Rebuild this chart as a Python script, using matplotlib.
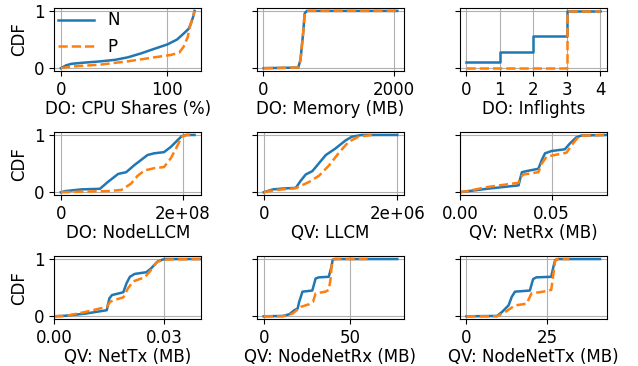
import matplotlib
matplotlib.use("Agg")
import matplotlib.pyplot as plt

plt.rcParams['font.size'] = 12

# --- datos (x, CDF) ---
cpu_x_n = [0, 5, 10, 20, 36, 51, 63, 75.5, 88, 100, 109, 115, 120, 122, 124, 125.4]
cpu_y_n = [0, 0.05, 0.076, 0.094, 0.117, 0.146, 0.19, 0.26, 0.34, 0.415, 0.50, 0.60, 0.69, 0.78, 0.89, 1.0]
cpu_x_p = [0, 11, 36, 63, 88, 103, 111, 115, 119, 121, 124, 125.4]
cpu_y_p = [0, 0.03, 0.06, 0.12, 0.19, 0.23, 0.27, 0.37, 0.54, 0.72, 0.89, 1.0]

mem_x_n = [15, 540, 575, 615, 640, 675, 2050]
mem_y_n = [0, 0.01, 0.14, 0.6, 0.96, 1.0, 1.0]
mem_x_p = [15, 540, 575, 615, 640, 675, 2050]
mem_y_p = [0, 0.01, 0.14, 0.6, 0.96, 1.0, 1.0]

inf_x = [0, 1, 2, 3, 4]
inf_y_n = [0.1, 0.28, 0.57, 1.0, 1.0]
inf_y_p = [0, 0, 0, 1.0, 1.0]

nllcm_x_n = [0, 0.075e8, 0.34e8, 0.64e8, 0.77e8, 0.94e8, 1.07e8, 1.2e8, 1.42e8, 1.53e8, 1.69e8, 1.8e8, 1.98e8, 2.06e8, 2.19e8]
nllcm_y_n = [0, 0.02, 0.05, 0.06, 0.18, 0.32, 0.35, 0.47, 0.65, 0.68, 0.70, 0.79, 0.98, 1.0, 1.0]
nllcm_x_p = [0, 0.34e8, 0.77e8, 0.99e8, 1.15e8, 1.26e8, 1.37e8, 1.53e8, 1.69e8, 1.8e8, 1.9e8, 1.98e8, 2.06e8, 2.17e8]
nllcm_y_p = [0, 0.01, 0.02, 0.04, 0.15, 0.29, 0.38, 0.42, 0.44, 0.59, 0.79, 0.97, 1.0, 1.0]

llcm_x_n = [0, 0.14e6, 0.29e6, 0.48e6, 0.56e6, 0.63e6, 0.73e6, 0.83e6, 0.93e6, 1.07e6, 1.22e6, 1.32e6, 1.47e6, 2.0e6]
llcm_y_n = [0, 0.05, 0.065, 0.076, 0.21, 0.31, 0.37, 0.51, 0.65, 0.76, 0.9, 0.97, 1.0, 1.0]
llcm_x_p = [0, 0.19e6, 0.48e6, 0.68e6, 0.83e6, 0.98e6, 1.12e6, 1.27e6, 1.42e6, 1.62e6, 1.65e6]
llcm_y_p = [0, 0.04, 0.07, 0.18, 0.29, 0.47, 0.68, 0.88, 0.97, 1.0, 1.0]

rx_x_n = [0, 0.0148, 0.032, 0.0329, 0.0338, 0.0365, 0.0428, 0.0446, 0.0464, 0.05, 0.0572, 0.0599, 0.0635, 0.0662, 0.08]
rx_y_n = [0, 0.06, 0.12, 0.24, 0.35, 0.37, 0.41, 0.56, 0.68, 0.72, 0.75, 0.85, 0.96, 0.99, 1.0]
rx_x_p = [0, 0.004, 0.0148, 0.032, 0.0329, 0.0347, 0.0428, 0.0446, 0.0473, 0.05, 0.0581, 0.0608, 0.0644, 0.0671, 0.08]
rx_y_p = [0, 0.02, 0.09, 0.165, 0.26, 0.31, 0.35, 0.5, 0.62, 0.64, 0.69, 0.82, 0.96, 0.99, 1.0]

tx_x_n = [0, 0.0031, 0.0085, 0.0143, 0.0150, 0.0157, 0.0188, 0.0197, 0.0206, 0.0219, 0.0251, 0.0264, 0.0282, 0.03, 0.04]
tx_y_n = [0, 0.01, 0.047, 0.106, 0.31, 0.37, 0.42, 0.58, 0.69, 0.74, 0.77, 0.84, 0.96, 1.0, 1.0]
tx_x_p = [0, 0.0031, 0.0085, 0.0143, 0.0152, 0.0161, 0.0188, 0.0201, 0.0215, 0.0246, 0.026, 0.0278, 0.0296, 0.04]
tx_y_p = [0, 0.006, 0.076, 0.165, 0.25, 0.28, 0.33, 0.49, 0.61, 0.68, 0.78, 0.94, 0.99, 1.0]

nrx_x_n = [0, 11, 14.8, 17.7, 19.6, 20.5, 22.4, 28.1, 30, 31.9, 37.6, 39.2, 39.9, 41.4, 77.2]
nrx_y_n = [0, 0.006, 0.035, 0.106, 0.135, 0.25, 0.43, 0.45, 0.66, 0.68, 0.69, 0.87, 0.99, 1.0, 1.0]
nrx_x_p = [0, 11, 16.7, 21.5, 26.2, 28.5, 30, 35.7, 37.6, 38.6, 39.5, 40.5, 60]
nrx_y_p = [0, 0, 0.047, 0.165, 0.21, 0.25, 0.4, 0.43, 0.46, 0.64, 0.96, 1.0, 1.0]

ntx_x_n = [0, 9.45, 11, 13, 14, 15, 19.6, 20.6, 21.6, 26.2, 26.9, 27.4, 28.3, 41.3]
ntx_y_n = [0, 0.006, 0.076, 0.19, 0.34, 0.43, 0.45, 0.65, 0.68, 0.69, 0.87, 0.98, 1.0, 1.0]
ntx_x_p = [0, 9.45, 12, 15, 18.6, 20.1, 23.7, 26.2, 26.9, 27.4, 27.9, 31.8]
ntx_y_p = [0, 0, 0.076, 0.19, 0.22, 0.4, 0.43, 0.46, 0.75, 0.96, 1.0, 1.0]

etiquetas = ['DO: CPU Shares (%)', 'DO: Memory (MB)', 'DO: Inflights',
             'DO: NodeLLCM', 'QV: LLCM', 'QV: NetRx (MB)',
             'QV: NetTx (MB)', 'QV: NodeNetRx (MB)', 'QV: NodeNetTx (MB)']
ticks_x = [[0, 100], [0, 2000], [0, 1, 2, 3, 4],
           [0, 2e8], [0, 2e6], [0, 0.05],
           [0, 0.03], [0, 50], [0, 25]]
ticklabels_x = [['0', '100'], ['0', '2000'], ['0', '1', '2', '3', '4'],
                ['0', '2e+08'], ['0', '2e+06'], ['0.00', '0.05'],
                ['0.00', '0.03'], ['0', '50'], ['0', '25']]
limites_x = {5: (0, 0.08), 6: (0, 0.04)}

series = [
    (cpu_x_n, cpu_y_n, cpu_x_p, cpu_y_p),
    (mem_x_n, mem_y_n, mem_x_p, mem_y_p),
    (inf_x, inf_y_n, inf_x, inf_y_p),
    (nllcm_x_n, nllcm_y_n, nllcm_x_p, nllcm_y_p),
    (llcm_x_n, llcm_y_n, llcm_x_p, llcm_y_p),
    (rx_x_n, rx_y_n, rx_x_p, rx_y_p),
    (tx_x_n, tx_y_n, tx_x_p, tx_y_p),
    (nrx_x_n, nrx_y_n, nrx_x_p, nrx_y_p),
    (ntx_x_n, ntx_y_n, ntx_x_p, ntx_y_p),
]

fig, axes = plt.subplots(3, 3, figsize=(6.38, 3.66), dpi=100, sharey=True)
fig.subplots_adjust(left=0.085, right=0.951, top=0.978, bottom=0.128,
                    wspace=0.38, hspace=0.97)

for k, ax in enumerate(axes.flat):
    xn, yn, xp, yp = series[k]
    estilo = 'steps-post' if k == 2 else 'default'
    ax.plot(xn, yn, color='#1f77b4', lw=1.8, label='N', drawstyle=estilo)
    ax.plot(xp, yp, color='#ff7f0e', lw=1.8, ls='--', label='P', drawstyle=estilo)
    ax.set_xticks(ticks_x[k])
    ax.set_xticklabels(ticklabels_x[k])
    if k in limites_x:
        ax.set_xlim(*limites_x[k])
    ax.set_yticks([0, 1])
    ax.set_xlabel(etiquetas[k], labelpad=1)
    ax.grid(True)
    if k % 3 == 0:
        ax.set_ylabel('CDF')

axes[0, 0].legend(loc='upper left', frameon=False, borderpad=0.1,
                  borderaxespad=0.1, handlelength=2.2)

fig.savefig('out.png', dpi=100)
